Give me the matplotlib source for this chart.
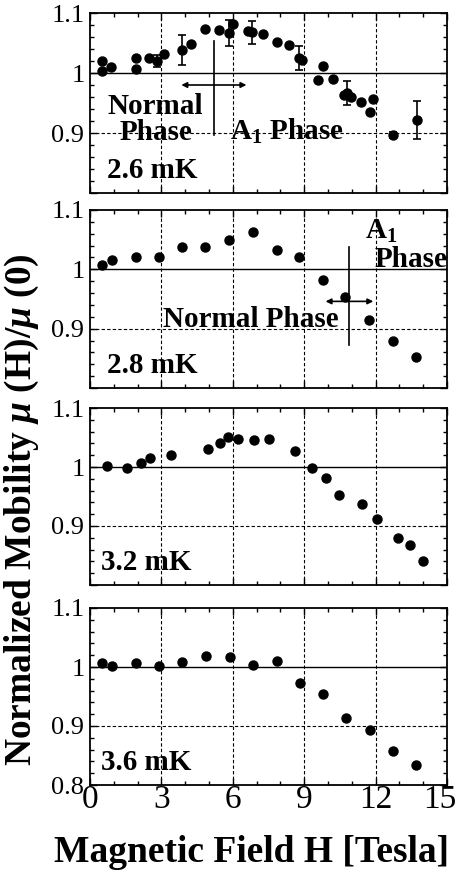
import matplotlib
matplotlib.use("Agg")
import matplotlib.pyplot as plt
from matplotlib.ticker import MultipleLocator
from matplotlib.transforms import ScaledTranslation

plt.rcParams['font.family'] = ['Liberation Serif', 'DejaVu Serif']
plt.rcParams['mathtext.fontset'] = 'custom'
plt.rcParams['mathtext.rm'] = 'Liberation Serif:bold'
plt.rcParams['mathtext.it'] = 'Liberation Serif:italic:bold'
plt.rcParams['mathtext.bf'] = 'Liberation Serif:bold'

# ---- data ----
# 2.6 mK
h26 = [0.52, 0.52, 0.87, 1.92, 1.92, 2.48, 2.83, 3.11, 3.88, 4.23, 4.82, 5.43, 5.85, 6.02,
       6.65, 6.8, 7.25, 7.84, 8.37, 8.79, 8.9, 9.56, 9.8, 10.2, 10.69, 10.79, 10.97,
       11.39, 11.88, 11.77, 12.72, 13.73]
m26 = [1.003, 1.02, 1.01, 1.025, 1.006, 1.025, 1.02, 1.031, 1.039, 1.048, 1.073, 1.071,
       1.067, 1.081, 1.07, 1.068, 1.065, 1.052, 1.046, 1.025, 1.022, 0.989, 1.011, 0.99,
       0.963, 0.966, 0.96, 0.952, 0.956, 0.935, 0.896, 0.922]
e26 = [0, 0, 0, 0, 0, 0, 0.01, 0, 0.025, 0, 0, 0, 0.022, 0, 0, 0.019, 0, 0, 0, 0.02, 0,
       0, 0, 0, 0, 0.02, 0, 0, 0, 0, 0.005, 0.032]
# 2.8 mK
h28 = [0.52, 0.91, 1.92, 2.9, 3.88, 4.82, 5.85, 6.83, 7.84, 8.79, 9.78, 10.72, 11.74, 12.72, 13.7]
m28 = [1.007, 1.016, 1.02, 1.021, 1.037, 1.038, 1.05, 1.063, 1.033, 1.02, 0.982, 0.954,
       0.914, 0.88, 0.852]
# 3.2 mK
h32 = [0.73, 1.57, 2.13, 2.52, 3.39, 4.94, 5.47, 5.78, 6.2, 6.9, 7.53, 8.61, 9.31, 9.92,
       10.48, 11.43, 12.06, 12.93, 13.45, 14.01]
m32 = [1.001, 0.999, 1.007, 1.015, 1.021, 1.03, 1.041, 1.051, 1.047, 1.045, 1.048, 1.027,
       0.998, 0.982, 0.953, 0.938, 0.912, 0.879, 0.868, 0.84]
# 3.6 mK
h36 = [0.52, 0.94, 1.92, 2.9, 3.88, 4.87, 5.89, 6.83, 7.84, 8.82, 9.8, 10.76, 11.77, 12.72, 13.7]
m36 = [1.007, 1.001, 1.007, 1.001, 1.008, 1.018, 1.017, 1.004, 1.011, 0.973, 0.954, 0.913,
       0.893, 0.857, 0.834]

temps = ['2.6 mK', '2.8 mK', '3.2 mK', '3.6 mK']
xticks = [0, 3, 6, 9, 12, 15]
yticks = [0.8, 0.9, 1.0, 1.1]
yticklabels = ['0.8', '0.9', '1', '1.1']

W, H = 461, 874
fig = plt.figure(figsize=(W / 100, H / 100), dpi=100)

panels_px = [(13, 193), (210, 388), (408, 585), (608, 785)]
left_px, right_px = 90, 447

axes = []
for (t, b) in panels_px:
    ax = fig.add_axes([left_px / W, 1 - b / H, (right_px - left_px) / W, (b - t) / H])
    axes.append(ax)

datasets = [(h26, m26, e26), (h28, m28, None), (h32, m32, None), (h36, m36, None)]
FS = 21

for i, ax in enumerate(axes):
    h, m, e = datasets[i]
    ax.set_xlim(0, 15)
    ax.set_ylim(0.8, 1.1)
    for xv in [3, 6, 9, 12]:
        ax.axvline(xv, color='black', lw=0.8, ls=(0, (3, 2)), zorder=1)
    ax.axhline(0.9, color='black', lw=0.8, ls=(0, (3, 2)), zorder=1)
    ax.axhline(1.0, color='black', lw=1.0, zorder=1)
    if e is not None:
        for xi, yi, ei in zip(h, m, e):
            if ei > 0:
                ax.errorbar([xi], [yi], yerr=[ei], fmt='none', ecolor='black',
                            elinewidth=1.2, capsize=3, capthick=1.2, zorder=2)
    ax.plot(h, m, 'o', color='black', ms=6.5, zorder=3)
    ax.xaxis.set_major_locator(MultipleLocator(3))
    ax.xaxis.set_minor_locator(MultipleLocator(1))
    ax.set_yticks(yticks)
    ax.yaxis.set_minor_locator(MultipleLocator(0.02))
    ax.tick_params(which='both', direction='in', top=True, right=True)
    ax.tick_params(which='major', length=5, width=1)
    ax.tick_params(which='minor', length=3, width=1)
    ax.tick_params(axis='y', labelsize=19, pad=4)
    ax.tick_params(axis='x', labelsize=24, pad=0)
    for sp in ax.spines.values():
        sp.set_linewidth(1.3)
    if i == 3:
        ax.set_yticklabels(yticklabels)
        ax.set_xticks(xticks)
        ax.set_xticklabels([str(v) for v in xticks])
    else:
        ax.set_yticklabels(['', '0.9', '1', '1.1'])
        ax.set_xticklabels([])
    ax.text(0.45 if i >= 2 else 0.73, 0.838, temps[i], fontsize=FS, fontweight='bold',
            ha='left', va='center')

# shift last x tick label slightly left so it stays inside the figure
last = axes[3].get_xticklabels()[-1]
last.set_transform(last.get_transform() + ScaledTranslation(-0.07, 0, fig.dpi_scale_trans))

# panel 1 annotations
ax = axes[0]
ax.plot([5.19, 5.19], [1.053, 0.896], color='black', lw=1.2, zorder=2)
ax.annotate('', xy=(3.72, 0.98), xytext=(6.69, 0.98),
            arrowprops=dict(arrowstyle='<|-|>', color='black', lw=1.2, mutation_scale=8))
ax.text(2.76, 0.923, 'Normal\nPhase', fontsize=FS, fontweight='bold', ha='center',
        va='center', linespacing=0.95)
ax.text(5.9, 0.903, 'A$_1$ Phase', fontsize=FS, fontweight='bold', ha='left', va='center')

# panel 2 annotations
ax = axes[1]
ax.plot([10.9, 10.9], [1.038, 0.872], color='black', lw=1.2, zorder=2)
ax.annotate('', xy=(9.78, 0.946), xytext=(12.02, 0.946),
            arrowprops=dict(arrowstyle='<|-|>', color='black', lw=1.2, mutation_scale=8))
ax.text(10.45, 0.915, 'Normal Phase', fontsize=FS, fontweight='bold', ha='right', va='center')
ax.text(11.55, 1.064, 'A$_1$', fontsize=FS, fontweight='bold', ha='left', va='center')
ax.text(15.0, 1.016, 'Phase', fontsize=FS, fontweight='bold', ha='right', va='center')

fig.text(22 / W, 1 - 510 / H, 'Normalized Mobility $\\mu$ (H)/$\\mu$ (0)', rotation=90,
         fontsize=27, fontweight='bold', ha='center', va='center')
fig.text(252 / W, 1 - 862 / H, 'Magnetic Field H [Tesla]', fontsize=27,
         fontweight='bold', ha='center', va='baseline')

fig.savefig('out.png', dpi=100)
